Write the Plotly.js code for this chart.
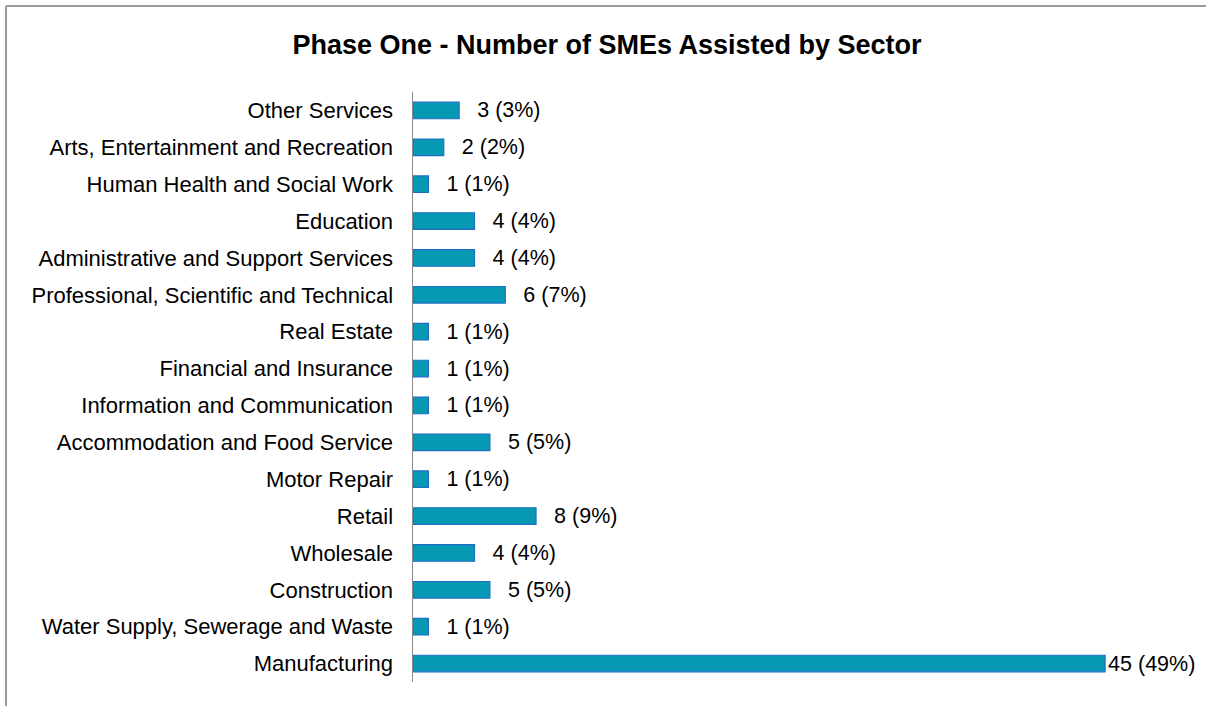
<!DOCTYPE html>
<html>
<head>
<meta charset="utf-8">
<script src="https://cdn.plot.ly/plotly-3.0.1.min.js"></script>
<style>
html,body{margin:0;padding:0;background:#fff;}
#chart{width:1206px;height:706px;}
</style>
</head>
<body>
<div id="chart"></div>
<script>
const categories = [
  "Manufacturing",
  "Water Supply, Sewerage and Waste",
  "Construction",
  "Wholesale",
  "Retail",
  "Motor Repair",
  "Accommodation and Food Service",
  "Information and Communication",
  "Financial and Insurance",
  "Real Estate",
  "Professional, Scientific and Technical",
  "Administrative and Support Services",
  "Education",
  "Human Health and Social Work",
  "Arts, Entertainment and Recreation",
  "Other Services"
];
const counts   = [45, 1, 5, 4, 8, 1, 5, 1, 1, 1, 6, 4, 4, 1, 2, 3];
const percents = [49, 1, 5, 4, 9, 1, 5, 1, 1, 1, 7, 4, 4, 1, 2, 3];

const labels = counts.map((c, i) => (c >= 40 ? "" : "\u2002\u2009") + c + " (" + percents[i] + "%)");

const L = 413, T = 92, B = 682, R = 1182;
const W = R - L, H = B - T;
const px = x => (x - L) / W;
const py = y => (B - y) / H;

const FONT = "Liberation Sans, Arial, sans-serif";

const trace = {
  type: "bar",
  orientation: "h",
  y: categories,
  x: counts,
  text: labels,
  textposition: "outside",
  constraintext: "none",
  cliponaxis: false,
  textfont: {family: FONT, size: 21.5, color: "#000"},
  marker: {color: "#0799b4", line: {color: "#1f6cc4", width: 1.2}},
  hoverinfo: "skip"
};

const layout = {
  width: 1206, height: 706,
  margin: {l: L, r: 1206 - R, t: T, b: 706 - B},
  paper_bgcolor: "#fff", plot_bgcolor: "#fff",
  showlegend: false,
  bargap: 0.55,
  title: {
    text: "<b>Phase One - Number of SMEs Assisted by Sector</b>",
    x: 607 / 1206, xref: "container", xanchor: "center",
    y: 1 - 45 / 706, yref: "container", yanchor: "middle",
    font: {family: FONT, size: 27, color: "#000"}
  },
  xaxis: {range: [0, 50], visible: false, fixedrange: true},
  yaxis: {
    type: "category",
    showline: true, linecolor: "#8c8c8c", linewidth: 1.5,
    showgrid: false, zeroline: false,
    ticks: "", ticklabelstandoff: 14,
    tickfont: {family: FONT, size: 22, color: "#000"},
    fixedrange: true
  },
  shapes: [
    {type: "line", xref: "paper", yref: "paper", x0: px(6), x1: px(1206), y0: py(6), y1: py(6),
     line: {color: "#9a9a9a", width: 2}},
    {type: "line", xref: "paper", yref: "paper", x0: px(6), x1: px(6), y0: py(6), y1: py(710),
     line: {color: "#9a9a9a", width: 2}}
  ]
};

Plotly.newPlot("chart", [trace], layout, {displayModeBar: false, staticPlot: true});
</script>
</body>
</html>
